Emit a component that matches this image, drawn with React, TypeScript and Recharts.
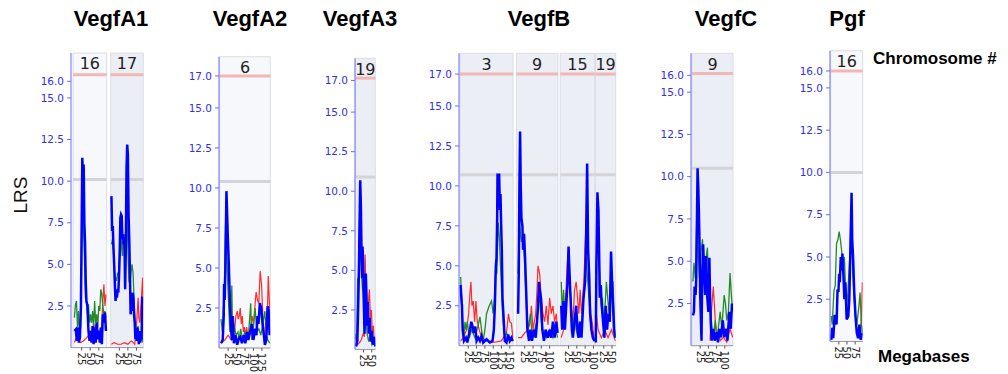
import React from 'react';
import { LineChart, Line, XAxis, YAxis, ReferenceArea, ReferenceLine, Label } from 'recharts';

type Pt = [number, number];

// ---------- Gene / chromosome names ----------
const GENES = ['VegfA1', 'VegfA2', 'VegfA3', 'VegfB', 'VegfC', 'Pgf'];
const SIGNIFICANT = [16.4, 17.0, 17.15, 17.0, 16.1, 16.0];
const SUGGESTIVE = [10.1, 10.4, 10.9, 10.7, 10.5, 10.0];
const TOP_TICK = [16, 17, 17, 17, 16, 16];
const Y_TICKS = [2.5, 5, 7.5, 10, 12.5, 15];

const CHR_LEN: Record<string, number> = { '3': 160, '6': 150, '9': 125, '15': 104, '16': 98, '17': 95, '19': 61 };
const TICKS_16 = [25, 50, 75];
const TICKS_17 = [25, 50, 75];
const TICKS_6 = [25, 50, 75, 100, 125];
const TICKS_19 = [25, 50];
const TICKS_3 = [25, 50, 75, 100, 125, 150];
const TICKS_9 = [25, 50, 75, 100];
const TICKS_15 = [25, 50, 75, 100];

// ---------- VegfA1 ----------
const A1_16_BLUE: Pt[] = [[4,1.0],[8,1.1],[11,0.4],[14,1.2],[17,0.3],[20,0.6],[23,2.5],[25,7.0],[27,11.4],[29,10.2],[31,11.0],[33,7.5],[35,6.3],[37,4.0],[39,2.8],[42,2.5],[45,1.0],[48,0.4],[51,1.0],[54,0.3],[57,1.3],[60,0.2],[63,1.2],[66,0.3],[69,1.5],[72,0.5],[75,1.0],[78,0.3],[81,1.2],[84,0.2],[87,2.0],[90,1.5],[93,2.1],[96,1.0]];
const A1_16_GREEN: Pt[] = [[4,1.8],[7,2.6],[10,2.8],[13,1.2],[16,2.2],[19,0.8],[22,1.2],[24,3.5],[26,7.0],[28,8.0],[30,7.5],[33,5.5],[36,3.0],[39,2.8],[42,2.0],[45,2.6],[48,1.5],[51,2.0],[54,1.5],[57,2.2],[60,1.2],[63,2.8],[66,1.5],[69,2.0],[72,1.2],[75,2.5],[78,2.2],[81,3.5],[84,3.2],[87,2.5],[90,2.0],[93,2.2],[96,1.8]];
const A1_16_RED: Pt[] = [[4,0.3],[10,0.6],[16,0.4],[22,0.3],[30,0.4],[40,0.6],[48,0.8],[55,0.5],[60,1.0],[65,1.4],[70,0.7],[75,1.0],[80,0.5],[84,1.5],[87,2.8],[90,3.8],[93,2.5],[96,3.2]];
const A1_17_BLUE: Pt[] = [[2,9.1],[4,7.0],[6,7.3],[8,6.0],[10,5.0],[12,3.8],[14,2.8],[16,3.2],[18,3.0],[20,3.5],[22,3.3],[24,4.2],[26,5.5],[28,7.8],[30,8.0],[32,7.9],[34,6.5],[36,6.8],[38,6.2],[40,6.6],[42,3.5],[44,6.0],[46,10.7],[48,12.2],[50,11.6],[52,8.0],[54,6.5],[56,4.5],[58,2.0],[60,2.6],[62,2.2],[64,3.3],[66,3.0],[68,2.0],[70,1.5],[72,0.5],[74,1.0],[76,0.4],[78,1.2],[80,0.8],[82,0.2],[84,1.0],[86,0.3],[88,1.0],[90,0.5],[92,3.0],[94,3.0]];
const A1_17_GREEN: Pt[] = [[2,6.2],[5,6.5],[8,5.8],[11,4.5],[14,4.2],[17,4.0],[20,4.5],[23,4.3],[26,6.0],[29,5.5],[32,6.8],[35,5.5],[38,6.8],[41,6.0],[44,7.2],[47,8.0],[50,6.0],[53,4.0],[56,3.8],[59,4.5],[62,5.0],[65,4.5],[68,3.0],[71,1.5],[74,1.2],[77,1.0],[80,1.3],[83,0.5],[86,0.8],[89,0.4],[92,0.6],[94,0.3]];
const A1_17_RED: Pt[] = [[2,0.2],[10,0.3],[20,0.2],[30,0.2],[40,0.3],[50,0.2],[60,0.4],[66,0.3],[70,0.2],[74,1.0],[77,2.0],[80,3.0],[82,1.8],[85,1.5],[88,2.5],[91,3.5],[93,4.2],[94,3.0]];

// ---------- VegfA2 ----------
const A2_6_BLUE: Pt[] = [[4,0.3],[9,0.5],[12,2.0],[13,4.0],[15,3.0],[17,5.0],[20,9.8],[22,8.5],[24,7.0],[27,5.3],[30,3.0],[33,1.5],[36,0.5],[39,2.0],[42,0.3],[47,0.8],[52,0.2],[57,0.6],[61,0.7],[66,0.3],[71,0.8],[76,0.3],[81,1.0],[85,0.5],[90,1.0],[95,1.5],[100,0.5],[105,1.2],[109,0.8],[112,2.0],[115,1.5],[119,2.8],[123,2.5],[127,1.5],[131,0.8],[134,0.2],[138,0.5],[142,2.6],[145,2.4],[148,0.8]];
const A2_6_GREEN: Pt[] = [[4,1.8],[8,1.0],[11,2.5],[14,4.0],[17,7.5],[19,8.5],[21,6.0],[24,4.0],[27,2.5],[30,1.0],[33,1.5],[36,3.9],[38,1.0],[42,1.5],[48,0.8],[54,1.0],[58,0.5],[62,1.2],[68,0.5],[74,1.0],[80,0.6],[86,1.0],[92,2.8],[95,0.5],[100,1.3],[105,2.5],[110,1.0],[116,1.2],[122,0.8],[128,1.5],[134,2.3],[138,0.8],[143,0.5],[148,0.3]];
const A2_6_RED: Pt[] = [[4,0.3],[15,0.5],[25,0.8],[35,0.5],[40,1.5],[44,1.0],[48,2.0],[52,2.3],[55,1.8],[58,2.0],[61,2.5],[64,1.5],[67,2.0],[70,1.0],[73,1.3],[76,0.8],[80,1.3],[85,0.5],[90,1.0],[96,2.0],[100,1.5],[104,2.5],[108,3.5],[112,3.0],[116,2.8],[120,4.8],[124,4.0],[128,2.0],[132,1.0],[136,0.5],[140,1.0],[144,4.5],[148,2.5]];

// ---------- VegfA3 ----------
const A3_19_BLUE: Pt[] = [[2,0.2],[6,0.5],[8,2.0],[9,3.0],[11,5.0],[13,8.0],[15,10.7],[17,9.0],[19,6.0],[21,4.5],[22,6.5],[24,5.5],[26,3.0],[28,1.0],[30,2.5],[32,4.8],[34,3.5],[36,1.5],[38,3.0],[41,1.0],[44,2.0],[47,0.5],[50,1.2],[54,0.3],[58,0.8],[61,0.2]];
const A3_19_GREEN: Pt[] = [[1,1.0],[4,0.2],[7,4.5],[9,4.0],[11,6.5],[13,8.0],[15,7.5],[18,5.5],[21,4.0],[24,3.5],[26,2.5],[29,1.5],[32,2.0],[36,1.0],[41,0.5],[46,1.0],[51,0.3],[56,0.5],[61,0.2]];
const A3_19_RED: Pt[] = [[1,0.8],[6,0.3],[12,0.4],[18,0.6],[24,1.0],[28,0.8],[30,6.0],[32,4.0],[35,2.5],[38,2.0],[40,3.0],[43,3.8],[46,2.0],[49,2.5],[52,1.0],[55,1.5],[58,0.5],[61,0.2]];

// ---------- VegfB ----------
const B_3_BLUE: Pt[] = [[2,3.8],[4,3.0],[6,2.5],[8,1.0],[12,0.3],[18,0.5],[22,0.2],[26,0.6],[30,1.0],[34,1.5],[38,1.2],[42,0.8],[46,1.2],[50,0.3],[55,0.5],[60,0.3],[65,0.6],[70,0.2],[80,0.4],[90,0.2],[98,0.3],[102,1.0],[105,2.5],[108,5.0],[110,5.5],[112,8.0],[113,10.7],[118,10.7],[120,8.5],[122,9.5],[124,7.5],[126,6.0],[128,3.0],[132,1.5],[135,0.3],[140,0.2],[145,0.7],[150,0.3],[155,0.5],[159,0.3]];
const B_3_GREEN: Pt[] = [[2,4.3],[5,3.0],[8,1.5],[12,0.5],[15,1.5],[18,1.0],[22,1.5],[28,0.5],[35,1.0],[45,0.5],[55,1.3],[60,1.8],[65,1.0],[70,0.3],[75,1.0],[80,2.0],[88,2.5],[95,2.8],[100,2.0],[104,3.0],[108,5.2],[111,4.5],[115,7.7],[118,7.0],[122,5.0],[126,3.0],[130,1.5],[135,0.5],[140,0.8],[150,0.4],[159,0.3]];
const B_3_RED: Pt[] = [[2,0.3],[10,0.5],[20,1.0],[26,2.0],[30,3.3],[33,4.0],[36,2.5],[40,2.8],[44,1.5],[48,2.8],[52,1.5],[58,1.0],[65,0.5],[80,0.3],[100,0.2],[125,0.3],[130,0.5],[140,0.8],[146,2.0],[150,1.5],[155,1.4],[159,0.5]];
const B_9_BLUE: Pt[] = [[5,2.0],[7,4.5],[9,10.0],[11,13.4],[13,10.0],[15,8.0],[18,7.5],[20,6.0],[23,7.0],[26,5.5],[30,3.0],[33,1.0],[38,0.3],[42,1.0],[47,0.3],[52,1.0],[58,0.5],[62,1.5],[65,2.5],[68,4.0],[70,3.5],[74,3.0],[78,1.0],[83,0.3],[88,1.0],[95,0.5],[100,1.0],[105,0.5],[110,1.5],[115,0.5],[120,1.5],[124,0.8]];
const B_9_GREEN: Pt[] = [[5,4.5],[9,8.0],[12,7.0],[15,6.5],[20,7.0],[25,5.0],[30,2.5],[35,1.0],[42,2.0],[48,0.5],[55,1.0],[62,1.5],[67,3.0],[70,2.8],[75,1.5],[80,0.8],[90,0.5],[100,1.0],[110,0.5],[118,1.0],[124,0.5]];
const B_9_RED: Pt[] = [[5,0.5],[15,0.5],[25,0.8],[35,1.0],[42,1.5],[45,2.5],[50,1.0],[58,2.0],[62,3.5],[65,5.0],[70,4.5],[75,3.0],[80,2.0],[85,1.5],[90,2.5],[95,1.3],[100,3.0],[105,2.0],[110,2.5],[115,1.5],[120,2.0],[124,1.0]];
const B_15_BLUE: Pt[] = [[3,2.5],[6,1.0],[10,2.8],[14,1.0],[18,2.5],[22,4.0],[25,6.2],[28,4.5],[31,3.0],[35,1.0],[38,0.5],[43,1.5],[48,2.5],[52,1.0],[56,0.5],[60,1.5],[64,0.5],[70,3.0],[75,4.0],[78,7.0],[81,11.4],[84,6.0],[87,4.5],[90,2.0],[94,1.0],[98,0.5],[103,0.3]];
const B_15_GREEN: Pt[] = [[3,4.0],[6,2.0],[10,3.5],[14,2.0],[18,3.0],[22,4.0],[26,5.0],[30,3.5],[34,2.0],[38,1.0],[43,2.0],[48,1.0],[53,0.5],[58,1.5],[63,1.0],[68,2.5],[73,3.5],[78,5.5],[83,4.0],[88,2.5],[93,1.0],[103,0.3]];
const B_15_RED: Pt[] = [[3,0.5],[10,1.0],[16,3.0],[23,5.8],[28,4.5],[33,2.5],[38,1.5],[43,3.5],[48,4.0],[52,3.0],[56,2.0],[60,3.5],[64,2.0],[68,3.0],[73,5.0],[78,8.0],[81,7.0],[85,5.0],[88,3.5],[92,2.0],[96,1.5],[103,0.3]];
const B_19_BLUE: Pt[] = [[1,0.2],[3,5.0],[6,9.6],[9,8.5],[11,6.0],[13,3.0],[16,3.8],[19,2.5],[23,1.5],[27,0.5],[31,2.5],[35,1.0],[39,2.0],[43,1.5],[47,5.9],[50,4.0],[53,2.5],[56,1.0],[60,0.5]];
const B_19_GREEN: Pt[] = [[1,4.5],[5,6.5],[8,7.0],[11,5.5],[14,4.0],[18,2.5],[21,3.0],[25,1.5],[29,2.5],[33,4.0],[37,3.0],[41,2.0],[46,4.5],[50,4.0],[53,4.0],[56,2.0],[60,0.5]];
const B_19_RED: Pt[] = [[1,0.3],[3,2.0],[8,1.0],[18,0.5],[28,1.0],[38,0.5],[48,1.0],[60,0.3]];

// ---------- VegfC ----------
const C_9_BLUE: Pt[] = [[3,1.8],[6,2.0],[8,3.5],[11,3.0],[13,4.0],[17,10.5],[19,9.5],[21,8.0],[23,6.0],[25,3.0],[29,0.3],[31,4.0],[34,6.0],[37,4.5],[40,3.0],[43,5.3],[46,3.0],[50,2.0],[53,5.2],[55,3.0],[57,1.5],[60,0.3],[65,1.0],[69,0.3],[75,0.8],[79,0.2],[84,1.0],[88,0.5],[94,1.5],[98,0.5],[104,1.0],[108,0.3],[114,2.0],[118,1.0],[122,2.5]];
const C_9_GREEN: Pt[] = [[3,3.8],[6,4.9],[10,4.0],[15,7.7],[17,7.0],[20,5.0],[23,4.0],[27,5.5],[32,6.3],[35,5.0],[39,4.5],[47,5.8],[50,4.0],[54,3.0],[57,2.0],[61,1.0],[65,0.5],[71,1.5],[75,0.5],[80,1.0],[86,2.0],[91,1.0],[98,3.0],[102,2.5],[106,1.5],[111,2.0],[116,4.3],[120,3.0],[124,2.0]];
const C_9_RED: Pt[] = [[55,0.3],[59,2.0],[65,3.5],[68,2.5],[71,1.5],[76,0.5],[82,1.0],[86,0.3],[96,0.5],[106,0.2],[116,1.0],[124,0.5]];

// ---------- Pgf ----------
const P_16_BLUE: Pt[] = [[2,0.1],[5,0.8],[8,0.2],[12,1.5],[15,1.5],[18,1.0],[21,3.0],[24,3.0],[26,4.0],[28,3.5],[31,5.0],[34,4.2],[36,5.2],[39,4.0],[42,2.5],[45,3.5],[49,1.3],[54,1.5],[57,2.5],[60,5.0],[62,7.0],[64,8.8],[66,6.0],[69,4.8],[72,3.0],[76,1.5],[80,0.5],[84,0.2],[88,1.0],[92,0.1],[96,0.5]];
const P_16_GREEN: Pt[] = [[2,1.5],[5,1.0],[10,3.0],[14,3.3],[18,5.8],[22,6.0],[26,6.5],[30,6.0],[34,5.3],[38,4.5],[42,5.0],[45,3.5],[49,2.0],[53,3.0],[57,4.5],[60,5.5],[62,7.2],[65,6.0],[68,4.0],[72,2.5],[76,1.5],[80,1.0],[86,2.0],[90,2.9],[94,1.0],[98,0.5]];
const P_16_RED: Pt[] = [[88,0.2],[92,0.5],[95,2.0],[97,3.5]];

interface Chrom { chr: string; ticks: number[]; blue: Pt[]; green: Pt[]; red: Pt[] }

const CHROMS: Chrom[][] = [
  [
    { chr: '16', ticks: TICKS_16, blue: A1_16_BLUE, green: A1_16_GREEN, red: A1_16_RED },
    { chr: '17', ticks: TICKS_17, blue: A1_17_BLUE, green: A1_17_GREEN, red: A1_17_RED },
  ],
  [{ chr: '6', ticks: TICKS_6, blue: A2_6_BLUE, green: A2_6_GREEN, red: A2_6_RED }],
  [{ chr: '19', ticks: TICKS_19, blue: A3_19_BLUE, green: A3_19_GREEN, red: A3_19_RED }],
  [
    { chr: '3', ticks: TICKS_3, blue: B_3_BLUE, green: B_3_GREEN, red: B_3_RED },
    { chr: '9', ticks: TICKS_9, blue: B_9_BLUE, green: B_9_GREEN, red: B_9_RED },
    { chr: '15', ticks: TICKS_15, blue: B_15_BLUE, green: B_15_GREEN, red: B_15_RED },
    { chr: '19', ticks: TICKS_19, blue: B_19_BLUE, green: B_19_GREEN, red: B_19_RED },
  ],
  [{ chr: '9', ticks: TICKS_9, blue: C_9_BLUE, green: C_9_GREEN, red: C_9_RED }],
  [{ chr: '16', ticks: TICKS_16, blue: P_16_BLUE, green: P_16_GREEN, red: P_16_RED }],
];

// ---------- layout (pixels) ----------
interface Layout { axisX: number; right: number; yTop: number; yZero: number; yMax: number; lead: number; gaps: number[]; titleX: number }
const LAYOUT: Layout[] = [
  { axisX: 70.7, right: 143, yTop: 53, yZero: 347.6, yMax: 17.7, lead: 6, gaps: [12], titleX: 111 },
  { axisX: 218.7, right: 270, yTop: 56.7, yZero: 348, yMax: 18.2, lead: 2, gaps: [], titleX: 250 },
  { axisX: 354.7, right: 375, yTop: 58.3, yZero: 349.5, yMax: 18.4, lead: 1, gaps: [], titleX: 360 },
  { axisX: 459, right: 615.7, yTop: 53.3, yZero: 345.7, yMax: 18.3, lead: 3, gaps: [10, 7, 2], titleX: 539 },
  { axisX: 690.7, right: 732.7, yTop: 53.3, yZero: 345.7, yMax: 17.3, lead: 3, gaps: [], titleX: 726 },
  { axisX: 830, right: 862.7, yTop: 50.7, yZero: 341.5, yMax: 17.2, lead: 2, gaps: [], titleX: 847 },
];

const H = 374;
const AXW = 40;
const X_AXIS_H = 20;
const TICK_BLUE = '#2f2ff0';
const FONT = 'DejaVu Sans, Verdana, sans-serif';

function GeneChart({ gi }: { gi: number }) {
  const chroms = CHROMS[gi];
  const lay = LAYOUT[gi];
  const offsets: number[] = [];
  let pos = 0;
  chroms.forEach((c, i) => {
    if (i > 0) pos += lay.gaps[i - 1];
    offsets.push(pos);
    pos += CHR_LEN[c.chr];
  });
  const end = pos;
  const plotW = lay.right - lay.axisX;
  const width = AXW + plotW + 4;
  const xTicks: number[] = [];
  const labelMap = new Map<number, string>();
  chroms.forEach((c, i) => c.ticks.forEach((t) => {
    const p = offsets[i] + t;
    xTicks.push(p);
    labelMap.set(p, String(t));
  }));
  const renderTick = (p: any) => {
    const { x, y, payload } = p;
    const lbl = labelMap.get(payload.value) ?? '';
    return (
      <text x={x} y={y} dy={3.6} transform={`rotate(90, ${x}, ${y})`} fontSize={10} fontFamily={FONT} fill="#222" textAnchor="start">
        {lbl}
      </text>
    );
  };
  const toData = (arr: Pt[], off: number) => arr.map(([mb, v]) => ({ x: off + mb, y: v }));
  const sig = SIGNIFICANT[gi];
  const sug = SUGGESTIVE[gi];
  return (
    <div style={{ position: 'absolute', left: lay.axisX - AXW, top: 0 }}>
      <LineChart
        width={width}
        height={H}
        margin={{ top: lay.yTop, right: 4, left: 0, bottom: H - lay.yZero - X_AXIS_H }}
      >
        <XAxis
          type="number"
          dataKey="x"
          domain={[-lay.lead, end]}
          allowDataOverflow
          ticks={xTicks}
          interval={0}
          height={X_AXIS_H}
          tickSize={3}
          tickMargin={2}
          tick={renderTick}
          axisLine={{ stroke: '#9a9aa8' }}
          tickLine={{ stroke: '#555' }}
        />
        <YAxis
          type="number"
          domain={[0, lay.yMax]}
          allowDataOverflow
          ticks={[...Y_TICKS, TOP_TICK[gi]]}
          interval={0}
          width={AXW}
          tickSize={4}
          tickMargin={3}
          tickFormatter={(v: number) => v.toFixed(1)}
          tick={{ fill: TICK_BLUE, fontSize: 10.5, fontFamily: FONT }}
          axisLine={{ stroke: '#6b6bf5' }}
          tickLine={{ stroke: '#6b6bf5' }}
        />
        {chroms.map((c, i) => (
          <ReferenceArea
            key={`bg-${i}`}
            x1={offsets[i]}
            x2={offsets[i] + CHR_LEN[c.chr]}
            y1={0}
            y2={lay.yMax}
            fill={Number(c.chr) % 2 === 0 ? '#f7f8fc' : '#eceef6'}
            fillOpacity={1}
            stroke="#dcdde6"
            strokeWidth={1}
            ifOverflow="visible"
          >
            <Label value={c.chr} position="insideTop" offset={5} fontSize={16} fill="#222" fontFamily={FONT} />
          </ReferenceArea>
        ))}
        {chroms.map((c, i) => (
          <ReferenceLine
            key={`sig-${i}`}
            segment={[{ x: offsets[i], y: sig }, { x: offsets[i] + CHR_LEN[c.chr], y: sig }]}
            stroke="#f2b6b6"
            strokeWidth={3}
            ifOverflow="visible"
          />
        ))}
        {chroms.map((c, i) => (
          <ReferenceLine
            key={`sug-${i}`}
            segment={[{ x: offsets[i], y: sug }, { x: offsets[i] + CHR_LEN[c.chr], y: sug }]}
            stroke="#d4d4d8"
            strokeWidth={3}
            ifOverflow="visible"
          />
        ))}
        {chroms.map((c, i) => (
          <Line key={`r-${i}`} data={toData(c.red, offsets[i])} dataKey="y" type="linear" stroke="#ff2a2a" strokeWidth={1.2} dot={false} activeDot={false} isAnimationActive={false} />
        ))}
        {chroms.map((c, i) => (
          <Line key={`g-${i}`} data={toData(c.green, offsets[i])} dataKey="y" type="linear" stroke="#228b22" strokeWidth={1.3} dot={false} activeDot={false} isAnimationActive={false} />
        ))}
        {chroms.map((c, i) => (
          <Line key={`b-${i}`} data={toData(c.blue, offsets[i])} dataKey="y" type="linear" stroke="#0000ff" strokeWidth={2.5} dot={false} activeDot={false} isAnimationActive={false} />
        ))}
      </LineChart>
    </div>
  );
}

export default function App() {
  return (
    <div style={{ position: 'absolute', left: 0, top: 0, width: 1008, height: H, background: '#fff', overflow: 'hidden' }}>
      {GENES.map((_, gi) => (
        <GeneChart key={gi} gi={gi} />
      ))}
      <svg width={1008} height={H} style={{ position: 'absolute', left: 0, top: 0, pointerEvents: 'none' }}>
        {GENES.map((g, gi) => (
          <text key={g} x={LAYOUT[gi].titleX} y={26} textAnchor="middle" fontSize={22} fontWeight="bold" fontFamily="Liberation Sans, Arial, sans-serif" fill="#000">
            {g}
          </text>
        ))}
        <text x={27} y={195} transform="rotate(-90, 27, 195)" textAnchor="middle" fontSize={19} fontFamily="Liberation Sans, Arial, sans-serif" fill="#111">
          LRS
        </text>
        <text x={873} y={64} fontSize={17} fontWeight="bold" fontFamily="Liberation Sans, Arial, sans-serif" fill="#000">
          Chromosome #
        </text>
        <text x={878} y={362} fontSize={17} fontWeight="bold" fontFamily="Liberation Sans, Arial, sans-serif" fill="#000">
          Megabases
        </text>
      </svg>
    </div>
  );
}
